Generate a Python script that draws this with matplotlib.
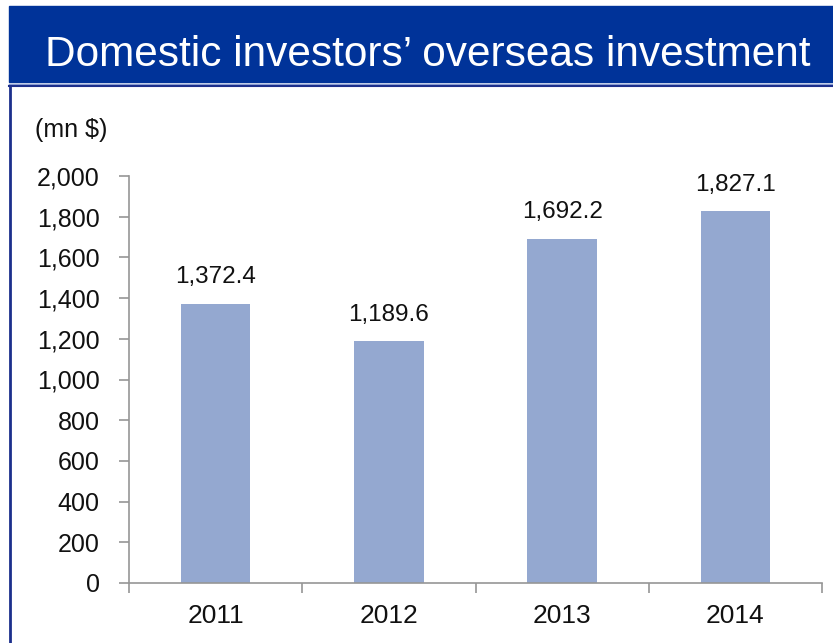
import matplotlib
matplotlib.use("Agg")
import matplotlib.pyplot as plt
from matplotlib.patches import Rectangle
from matplotlib.lines import Line2D
from matplotlib.ticker import FuncFormatter, FixedLocator

years = ["2011", "2012", "2013", "2014"]
values = [1372.4, 1189.6, 1692.2, 1827.1]
yticks = [0, 200, 400, 600, 800, 1000, 1200, 1400, 1600, 1800, 2000]

W, H = 833, 643
fig = plt.figure(figsize=(W / 100, H / 100), dpi=100)
plt.rcParams['font.family'] = ['Liberation Sans', 'DejaVu Sans']

# blue header band and frame
fig.patches.append(Rectangle((9 / W, 1 - 82 / H), 1 - 9 / W, 76 / H, transform=fig.transFigure,
                             color='#003399', zorder=0))
fig.lines.append(Line2D([9 / W, 1], [1 - 83.5 / H] * 2, transform=fig.transFigure, color='#8fa3d6', lw=1))
fig.lines.append(Line2D([9 / W, 1], [1 - 86 / H] * 2, transform=fig.transFigure, color='#1c2f8c', lw=1.5))
fig.lines.append(Line2D([10 / W] * 2, [0, 1 - 86 / H], transform=fig.transFigure, color='#1c2f8c', lw=2))
fig.text(428 / W, 1 - 66 / H, "Domestic investors\u2019 overseas investment", color='white',
         fontsize=30.5, ha='center', va='baseline')
fig.text(35 / W, 1 - 130 / H, "(mn $)", fontsize=18, ha='left', va='center', color='#111111')

ax = fig.add_axes([129 / W, 1 - 583 / H, (822 - 129) / W, (583 - 176) / H])
x = range(len(years))
bars = ax.bar(x, values, width=0.4, color='#94a8d0', zorder=2)
for xi, v in zip(x, values):
    ax.annotate(f"{v:,.1f}", (xi, v), textcoords="offset points", xytext=(0, 11),
                ha='center', va='bottom', fontsize=17.5, color='#111111')

ax.set_xlim(-0.5, len(years) - 0.5)
ax.set_ylim(0, 2000)
ax.set_yticks(yticks)
ax.yaxis.set_major_formatter(FuncFormatter(lambda v, p: f"{v:,.0f}"))
ax.set_xticks(list(x))
ax.set_xticklabels(years)
ax.xaxis.set_minor_locator(FixedLocator([-0.5, 0.5, 1.5, 2.5, 3.5]))
ax.tick_params(axis='x', which='major', length=0, pad=15, labelsize=19, labelcolor='#111111')
ax.tick_params(axis='x', which='minor', length=7, width=1.2, color='#969696', direction='out')
ax.tick_params(axis='y', length=7, width=1.2, color='#969696', pad=14, labelsize=18, labelcolor='#111111')
for s in ['top', 'right']:
    ax.spines[s].set_visible(False)
for s in ['left', 'bottom']:
    ax.spines[s].set_color('#969696')
    ax.spines[s].set_linewidth(1.2)

plt.savefig("out.png", dpi=100)
